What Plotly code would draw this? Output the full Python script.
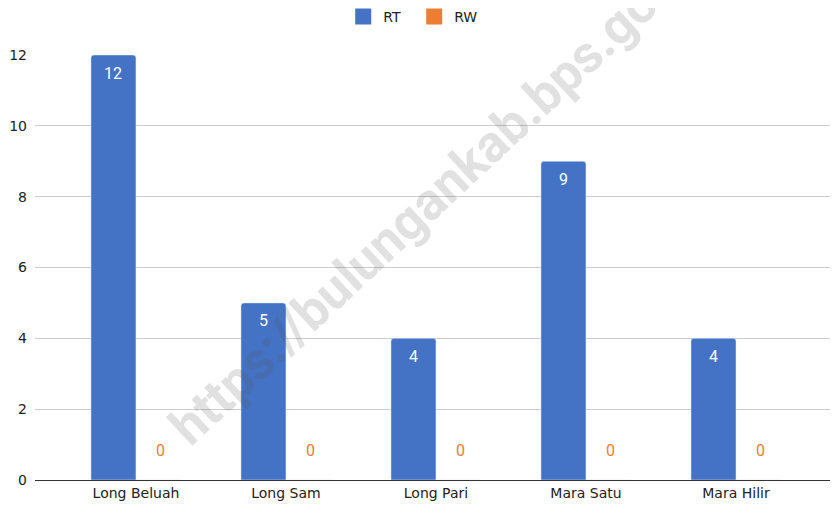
import plotly.graph_objects as go

categories = ["Long Beluah", "Long Sam", "Long Pari", "Mara Satu", "Mara Hilir"]
rt_values = [12, 5, 4, 9, 4]
rw_values = [0, 0, 0, 0, 0]
y_ticks = [0, 2, 4, 6, 8, 10, 12]
series_names = ["RT", "RW"]
watermark = "https://bulungankab.bps.go.id"

RT_COLOR = "#4472C4"
RW_COLOR = "#ED7D31"
FONT = "DejaVu Sans"
LABEL_FONT = "Roboto"

fig = go.Figure()
fig.add_trace(go.Bar(name="RT", x=categories, y=rt_values, marker_color=RT_COLOR,
                     showlegend=False))
fig.add_trace(go.Bar(name="RW", x=categories, y=rw_values, marker_color=RW_COLOR,
                     showlegend=False))

# legend entries (square swatches)
for name, col in zip(series_names, [RT_COLOR, RW_COLOR]):
    fig.add_trace(go.Scatter(x=[None], y=[None], mode="markers", name=name,
                             marker=dict(symbol="square", size=16, color=col)))

for c, v in zip(categories, rt_values):
    fig.add_annotation(x=c, y=v, xref="x", yref="y", text=str(v), showarrow=False,
                       xshift=-22.5, yshift=-18, font=dict(color="white", size=16, family=LABEL_FONT))
for c, v in zip(categories, rw_values):
    fig.add_annotation(x=c, y=v, xref="x", yref="y", text=str(v), showarrow=False,
                       xshift=25, yshift=30, font=dict(color=RW_COLOR, size=16, family=LABEL_FONT))

fig.add_annotation(x=0.50, y=0.67, xref="paper", yref="paper", text="<b>" + watermark + "</b>",
                   showarrow=False, textangle=-43, xanchor="center", yanchor="middle",
                   font=dict(size=52, color="rgba(90,90,90,0.18)", family="Roboto"))

fig.update_layout(
    width=830, height=499,
    margin=dict(l=27, r=3, t=47, b=27),
    plot_bgcolor="white", paper_bgcolor="white",
    barmode="group", bargap=0.4, bargroupgap=0, barcornerradius=3,
    font=dict(family=FONT, color="#222222", size=14),
    legend=dict(orientation="h", x=0.474, xanchor="center", xref="paper",
                y=1 - 9 / 499, yanchor="middle", yref="container",
                font=dict(size=14, color="#222222", family=FONT),
                itemwidth=30, entrywidth=26, entrywidthmode="pixels"),
    showlegend=True,
)
fig.update_xaxes(range=[-0.673, 4.66], showgrid=False, showline=True, linecolor="#333333",
                 linewidth=1, ticks="", tickfont=dict(size=14, color="#222222"), automargin=False)
fig.update_yaxes(range=[0, 12], tickvals=y_ticks, showgrid=True, gridcolor="#cccccc",
                 zeroline=False, showline=False, ticks="", tickfont=dict(size=14, color="#222222"),
                 ticklabelstandoff=7, automargin=False)

fig.write_html("out.html")
